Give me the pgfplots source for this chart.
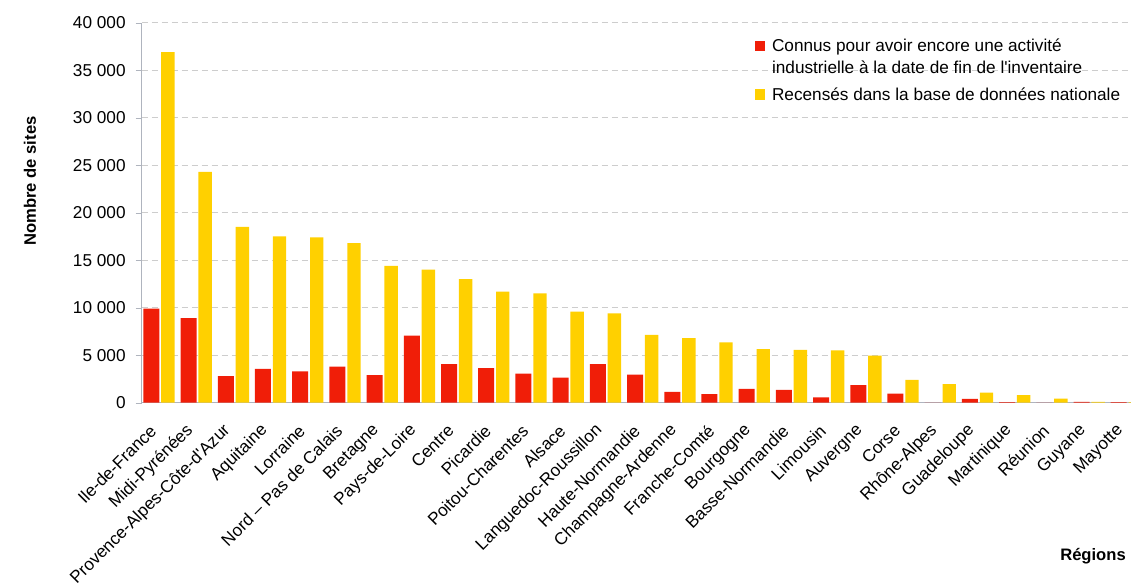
\documentclass[border=0pt]{standalone}
\usepackage{pgfplots}
\pgfplotsset{compat=1.18}
\usepackage{fontspec}
\setmainfont{Liberation Sans}
\definecolor{barred}{RGB}{240,30,8}
\definecolor{baryellow}{RGB}{255,208,0}
\definecolor{gridgray}{RGB}{205,205,205}
\definecolor{axisgray}{RGB}{175,180,190}
\pgfplotsset{sqlegend/.style={legend image code/.code={\fill[##1,draw=none] (0pt,0.2pt) rectangle (5pt,5.6pt);}}}
\begin{document}
\begin{tikzpicture}
\begin{axis}[
  at={(0,0)}, anchor=south west,
  scale only axis, width=494.65pt, height=190pt,
  xmin=-0.5, xmax=26.09, ymin=0, ymax=40000,
  ybar,
  axis x line*=bottom, axis y line*=left,
  axis line style={axisgray},
  tick align=outside,
  xtick={0,...,26},
  xticklabels={Ile-de-France,Midi-Pyrénées,Provence-Alpes-Côte-d\textquotesingle Azur,Aquitaine,Lorraine,Nord – Pas de Calais,Bretagne,Pays-de-Loire,Centre,Picardie,Poitou-Charentes,Alsace,Languedoc-Roussillon,Haute-Normandie,Champagne-Ardenne,Franche-Comté,Bourgogne,Basse-Normandie,Limousin,Auvergne,Corse,Rhône-Alpes,Guadeloupe,Martinique,Réunion,Guyane,Mayotte},
  xtick style={draw=none},
  minor xtick={-0.5,0.5,...,25.5},
  minor tick length=2pt,
  minor tick style={draw=axisgray},
  xticklabel style={font=\fontsize{8.6}{10}\selectfont, inner sep=0pt, anchor=east, xshift=-3.5pt, yshift=-9.5pt, rotate=45},
  ytick={0,5000,...,40000},
  major tick length=3pt,
  ytick style={draw=axisgray},
  scaled y ticks=false,
  yticklabel style={font=\fontsize{8.6}{10}\selectfont, inner sep=0pt, xshift=-4.85pt, /pgf/number format/1000 sep={\ }, /pgf/number format/assume math mode=true},
  ymajorgrids,
  grid style={gridgray, dash pattern=on 3pt off 2pt},
  ylabel={Nombre de sites},
  ylabel style={at={(axis description cs:-0.1129,0.5834)}, anchor=center, font=\fontsize{8.3}{10}\selectfont\bfseries},
  xlabel={Régions},
  xlabel style={at={(axis description cs:0.9616,-0.4034)}, anchor=center, font=\fontsize{8.3}{10}\selectfont\bfseries},
  legend style={at={(axis description cs:0.62,0.965)}, anchor=north west, draw=none, fill=none,
    font=\fontsize{8.6}{11}\selectfont, cells={anchor=base west}, nodes={inner sep=0pt},
    column sep=3.3pt, row sep=16.5pt, inner sep=0pt},
]
\addplot[fill=barred, draw=none, bar width=0.43, bar shift=-0.24, sqlegend] coordinates {
(0,9900) (1,8900) (2,2800) (3,3550) (4,3300) (5,3800) (6,2900) (7,7050) (8,4050) (9,3650)
(10,3050) (11,2650) (12,4050) (13,2950) (14,1150) (15,900) (16,1450) (17,1350) (18,550) (19,1850)
(20,950) (21,0) (22,400) (23,50) (24,0) (25,80) (26,60)};
\addlegendentry{\begin{tabular}[t]{@{}l@{}}Connus pour avoir encore une activité\\industrielle à la date de fin de l\textquotesingle inventaire\end{tabular}}
\addplot[fill=baryellow, draw=none, bar width=0.36, bar shift=0.205, sqlegend] coordinates {
(0,36900) (1,24300) (2,18500) (3,17500) (4,17400) (5,16800) (6,14400) (7,14000) (8,13000) (9,11700)
(10,11500) (11,9600) (12,9400) (13,7150) (14,6800) (15,6350) (16,5650) (17,5550) (18,5500) (19,4950)
(20,2400) (21,1950) (22,1050) (23,800) (24,420) (25,80) (26,60)};
\addlegendentry{Recensés dans la base de données nationale}
\end{axis}
\pgfresetboundingbox
\path[use as bounding box] (-70.85pt,-91.65pt) rectangle (494.65pt,201.35pt);
\end{tikzpicture}
\end{document}
